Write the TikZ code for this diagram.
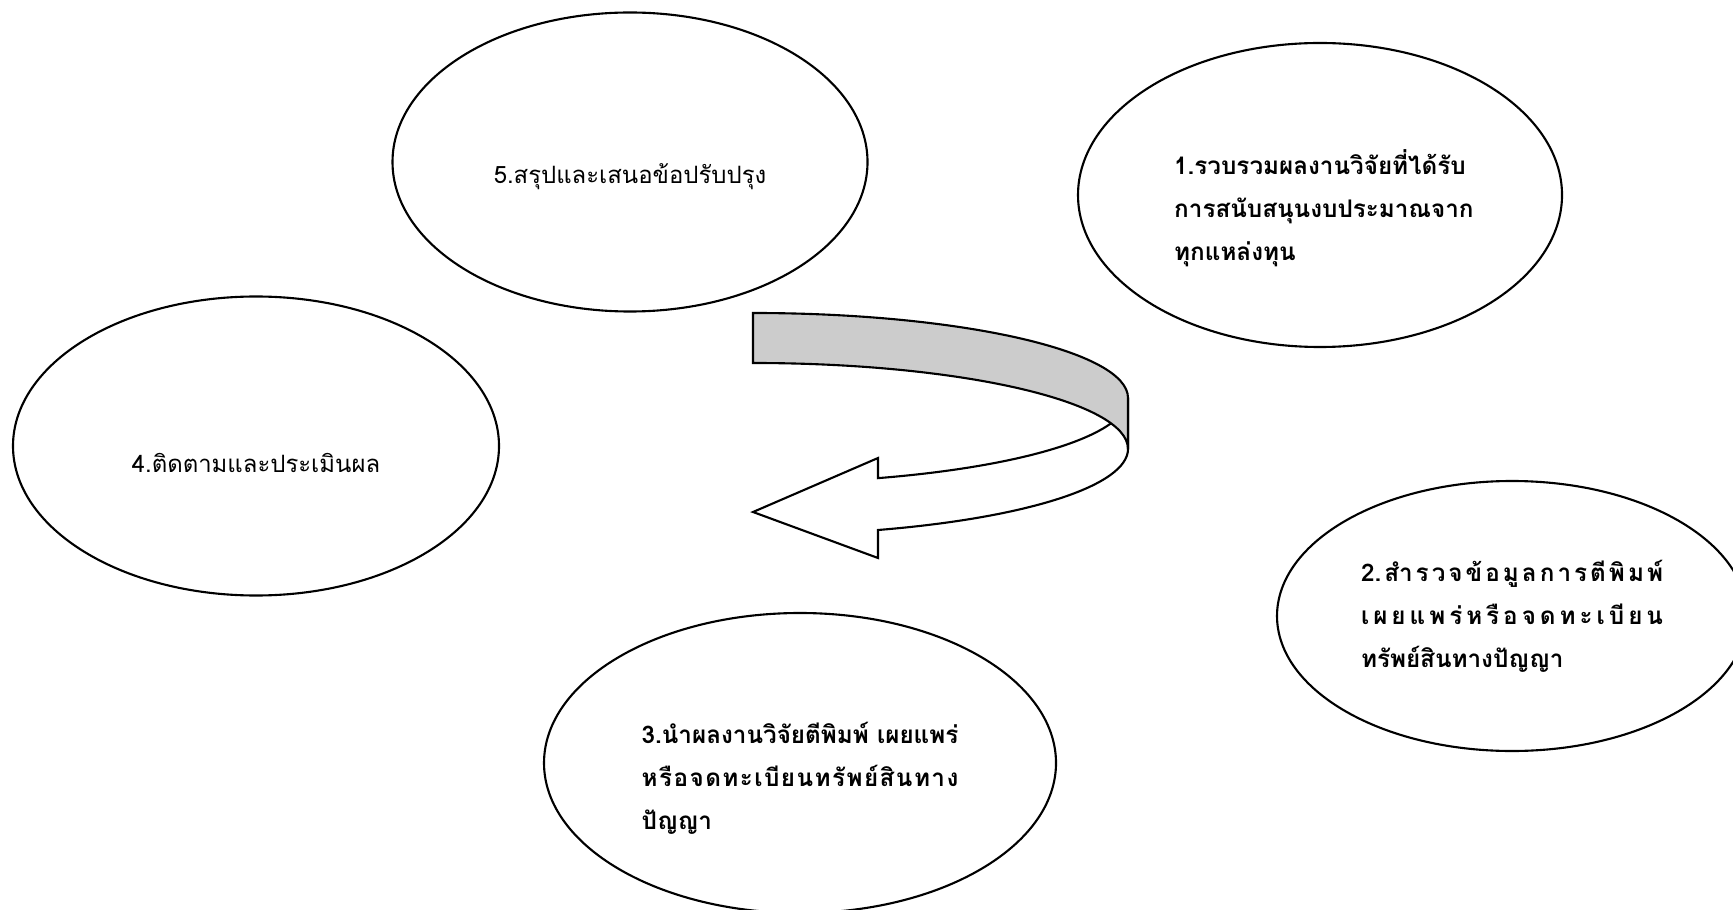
\documentclass[tikz,border=0pt]{standalone}
\usepackage{fontspec}
\setmainfont[Script=Thai]{Loma}
\usetikzlibrary{shapes.geometric}

\newlength\spreadwd
\newcommand\spreadto[2]{\settowidth{\spreadwd}{#1}\makebox[\spreadwd][s]{#2}}

\begin{document}
\begin{tikzpicture}
        \tikzstyle{every node}=[font=\fontsize{6.8}{12.2}\selectfont]
        \tikzstyle{stage}=[draw, ellipse, line width=0.6pt, inner sep=0pt]
        \tikzstyle{stagetext}=[align=left, inner sep=0pt]
        \tikzstyle{boldtext}=[stagetext, font=\fontsize{6.9}{12.2}\selectfont\bfseries]

        \useasboundingbox (0,0) rectangle (17.33,9.09);

        \node[stage, minimum width=4.84cm, minimum height=3.04cm] (s1) at (13.20,7.14) {};
        \node[stage, minimum width=4.70cm, minimum height=2.70cm] (s2) at (15.12,2.93) {};
        \node[stage, minimum width=5.12cm, minimum height=3.00cm] (s3) at (8.00,1.46) {};
        \node[stage, minimum width=4.86cm, minimum height=2.99cm] (s4) at (2.56,4.63) {};
        \node[stage, minimum width=4.75cm, minimum height=2.99cm] (s5) at (6.30,7.47) {};

        \node[boldtext] (t1) at ([yshift=-0.13cm]s1.center) {1.รวบรวมผลงานวิจัยที่ได้รับ\\
            \spreadto{1.รวบรวมผลงานวิจัยที่ได้รับ}{ก\hfill า\hfill ร\hfill ส\hfill นั\hfill บ\hfill ส\hfill นุ\hfill น\hfill ง\hfill บ\hfill ป\hfill ร\hfill ะ\hfill ม\hfill า\hfill ณ\hfill จ\hfill า\hfill ก}\\
            ทุกแหล่งทุน};
        \node[boldtext] (t2) at (s2.center) {\makebox[3.02cm][s]{2.\hfill สำ\hfill ร\hfill ว\hfill จ\hfill ข้\hfill อ\hfill มู\hfill ล\hfill ก\hfill า\hfill ร\hfill ตี\hfill พิ\hfill ม\hfill พ์}\\
            \makebox[3.02cm][s]{เ\hfill ผ\hfill ย\hfill แ\hfill พ\hfill ร่\hfill ห\hfill รื\hfill อ\hfill จ\hfill ด\hfill ท\hfill ะ\hfill เ\hfill บี\hfill ย\hfill น}\\
            ทรัพย์สินทางปัญญา};
        \node[boldtext] (t3) at ([yshift=-0.15cm]s3.center) {3.นำผลงานวิจัยตีพิมพ์ เผยแพร่\\
            \spreadto{3.นำผลงานวิจัยตีพิมพ์ เผยแพร่}{ห\hfill รื\hfill อ\hfill จ\hfill ด\hfill ท\hfill ะ\hfill เ\hfill บี\hfill ย\hfill น\hfill ท\hfill รั\hfill พ\hfill ย์\hfill สิ\hfill น\hfill ท\hfill า\hfill ง}\\
            ปัญญา};
        \node[stagetext] (t4) at ([yshift=-0.17cm]s4.center) {4.ติดตามและประเมินผล};
        \node[stagetext] (t5) at ([yshift=-0.15cm]s5.center) {5.สรุปและเสนอข้อปรับปรุง};

        \draw[line width=0.6pt, fill=white] (11.28,5.11) arc[start angle=0, end angle=-70.53, x radius=3.75, y radius=0.85]
            -- (8.78,4.51) -- (7.53,3.97) -- (8.78,3.51) -- (8.78,3.79)
            arc[start angle=-70.53, end angle=0, x radius=3.75, y radius=0.86] -- cycle;
        \draw[line width=0.6pt, fill=black!20] (7.53,5.96) arc[start angle=90, end angle=0, x radius=3.75, y radius=0.85]
            -- (11.28,4.60) arc[start angle=0, end angle=90, x radius=3.75, y radius=0.86] -- cycle;

    \end{tikzpicture}
\end{document}
